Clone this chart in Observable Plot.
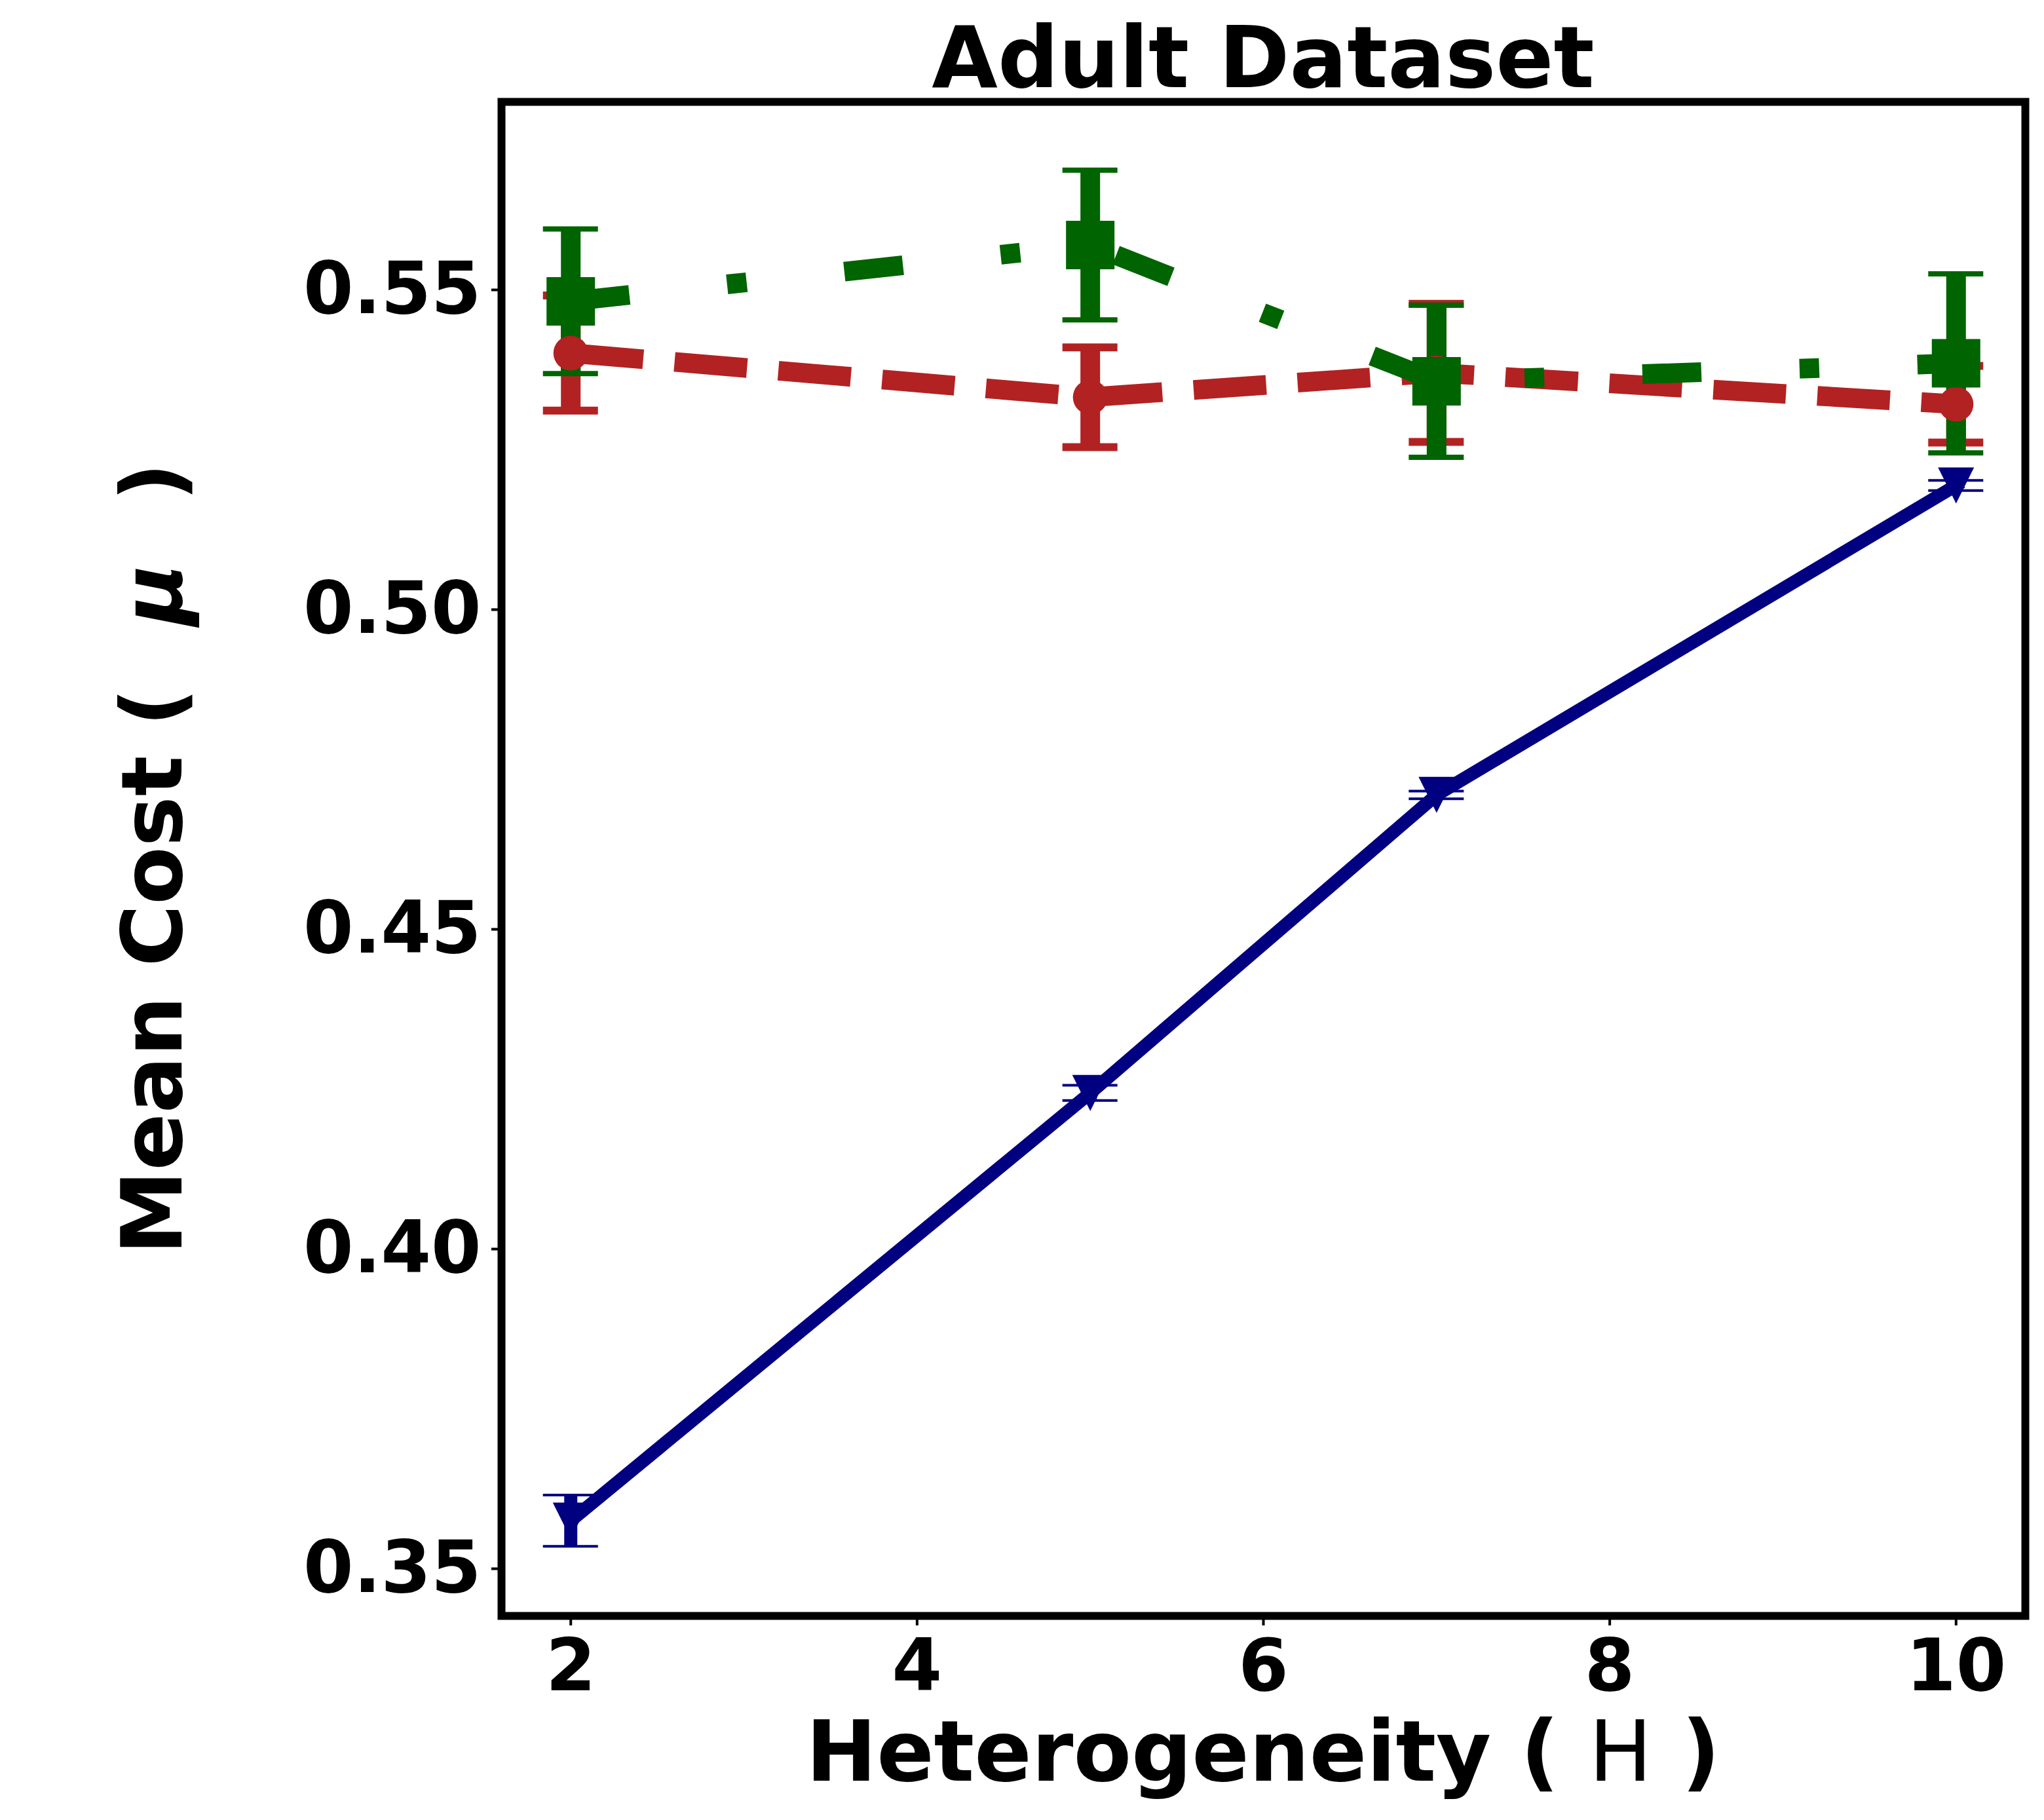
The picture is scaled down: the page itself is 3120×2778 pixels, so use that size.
<!DOCTYPE html>
<html>
<head>
<meta charset="utf-8">
<script src="https://cdn.jsdelivr.net/npm/d3@7"></script>
<script src="https://cdn.jsdelivr.net/npm/@observablehq/plot@0.6"></script>
<style>
html, body { margin: 0; padding: 0; background: #ffffff; }
svg { display: block; }
</style>
</head>
<body>
<div id="chart"></div>
<script>
// ---- data ----
const heterogeneity = [2, 5, 7, 10];
const seriesNames = ["Series A", "Series B", "Series C"];
const meanA = [0.3567, 0.4236, 0.4702, 0.5186];
const errA  = [0.0040, 0.0012, 0.0006, 0.0008];
const meanB = [0.5393, 0.5324, 0.5362, 0.5313];
const errB  = [0.0090, 0.0078, 0.0108, 0.0060];
const meanC = [0.5474, 0.5562, 0.5349, 0.5377];
const errC  = [0.0113, 0.0117, 0.0119, 0.0140];
const xTicks = [2, 4, 6, 8, 10];
const yTicks = [0.35, 0.40, 0.45, 0.50, 0.55];
const titleText = "Adult Dataset";
const xLabelParts = ["Heterogeneity ( ", "H", " )"];
const yLabelParts = ["Mean Cost (", "μ", ")"];

// ---- build table ----
function rowsFor(name, means, errs) {
  return heterogeneity.map((h, i) => ({series: name, h, mean: means[i], lo: means[i] - errs[i], hi: means[i] + errs[i]}));
}
const dataA = rowsFor(seriesNames[0], meanA, errA);
const dataB = rowsFor(seriesNames[1], meanB, errB);
const dataC = rowsFor(seriesNames[2], meanC, errC);

const triangleDown = {
  draw(ctx, size) {
    const r = Math.sqrt(size / Math.PI);
    ctx.moveTo(-r, -r);
    ctx.lineTo(r, -r);
    ctx.lineTo(0, r);
    ctx.closePath();
  }
};

const styles = [
  {data: dataA, color: "#000080", lw: 20, dash: null, elw: 20, cap: 4, symbol: triangleDown, r: 27.5},
  {data: dataB, color: "#b22222", lw: 30, dash: "111,48", elw: 30, cap: 12, symbol: "circle", r: 26.5},
  {data: dataC, color: "#006400", lw: 30, dash: "90,150,30,150", elw: 30, cap: 8, symbol: "square", r: 41.75}
];

const W = 3120, Hh = 2778;
const marks = [];
// error bars (drawn beneath all lines, as in the reference)
for (const s of styles) {
  marks.push(Plot.ruleX(s.data, {x: "h", y1: "lo", y2: "hi", stroke: s.color, strokeWidth: s.elw}));
  marks.push(Plot.ruleY(s.data, {x1: "h", x2: "h", y: "hi", stroke: s.color, strokeWidth: s.cap, insetLeft: -42, insetRight: -42}));
  marks.push(Plot.ruleY(s.data, {x1: "h", x2: "h", y: "lo", stroke: s.color, strokeWidth: s.cap, insetLeft: -42, insetRight: -42}));
}
// lines + markers
for (const s of styles) {
  marks.push(Plot.line(s.data, {
    x: "h", y: "mean", stroke: s.color, strokeWidth: s.lw,
    strokeDasharray: s.dash || undefined,
    strokeLinecap: s.dash ? "butt" : "square",
    strokeLinejoin: "round"
  }));
  marks.push(Plot.dot(s.data, {x: "h", y: "mean", symbol: s.symbol, r: s.r, fill: s.color, stroke: "none"}));
}
marks.push(Plot.axisX({ticks: xTicks, tickFormat: d3.format("d"), tickSize: 15, tickPadding: 20, fontSize: 110, fontWeight: "bold", strokeWidth: 4, label: null}));
marks.push(Plot.axisY({ticks: yTicks, tickFormat: d3.format(".2f"), tickSize: 15, tickPadding: 16, fontSize: 110, fontWeight: "bold", strokeWidth: 4, dy: 8, label: null}));
marks.push(Plot.frame({stroke: "black", strokeWidth: 12}));

const plot = Plot.plot({
  width: W,
  height: Hh,
  marginLeft: 765,
  marginRight: 29,
  marginTop: 155,
  marginBottom: 312,
  x: {domain: [1.6, 10.4]},
  y: {domain: [0.341803, 0.578586]},
  style: {fontFamily: "DejaVu Sans", background: "#ffffff", color: "black", overflow: "visible"},
  marks
});
document.getElementById("chart").appendChild(plot);

// ---- title and axis labels ----
const svg = d3.select(plot);
const cx = (765 + (W - 29)) / 2;
const cy = (155 + (Hh - 312)) / 2;
function addLabel(parts, transform, opts) {
  const t = svg.append("text")
    .attr("transform", transform)
    .attr("text-anchor", "middle")
    .attr("font-family", "DejaVu Sans")
    .attr("font-size", 129)
    .attr("fill", "black");
  parts.forEach((p, i) => {
    const ts = t.append("tspan").text(p).attr("xml:space", "preserve").style("white-space", "pre");
    ts.attr("font-weight", i === 1 ? opts.midWeight : "bold");
    if (i === 1 && opts.italic) ts.attr("font-style", "italic");
    if (i > 0 && opts.gap) ts.attr("dx", opts.gap);
  });
  return t;
}
svg.append("text")
  .attr("x", cx).attr("y", 133)
  .attr("text-anchor", "middle")
  .attr("font-family", "DejaVu Sans")
  .attr("font-weight", "bold")
  .attr("font-size", 130)
  .attr("fill", "black")
  .text(titleText);
addLabel(xLabelParts, `translate(${cx},2718)`, {midWeight: "normal", italic: false, gap: 0});
addLabel(yLabelParts, `translate(277,${cy}) rotate(-90)`, {midWeight: "bold", italic: true, gap: 95});
</script>
</body>
</html>
